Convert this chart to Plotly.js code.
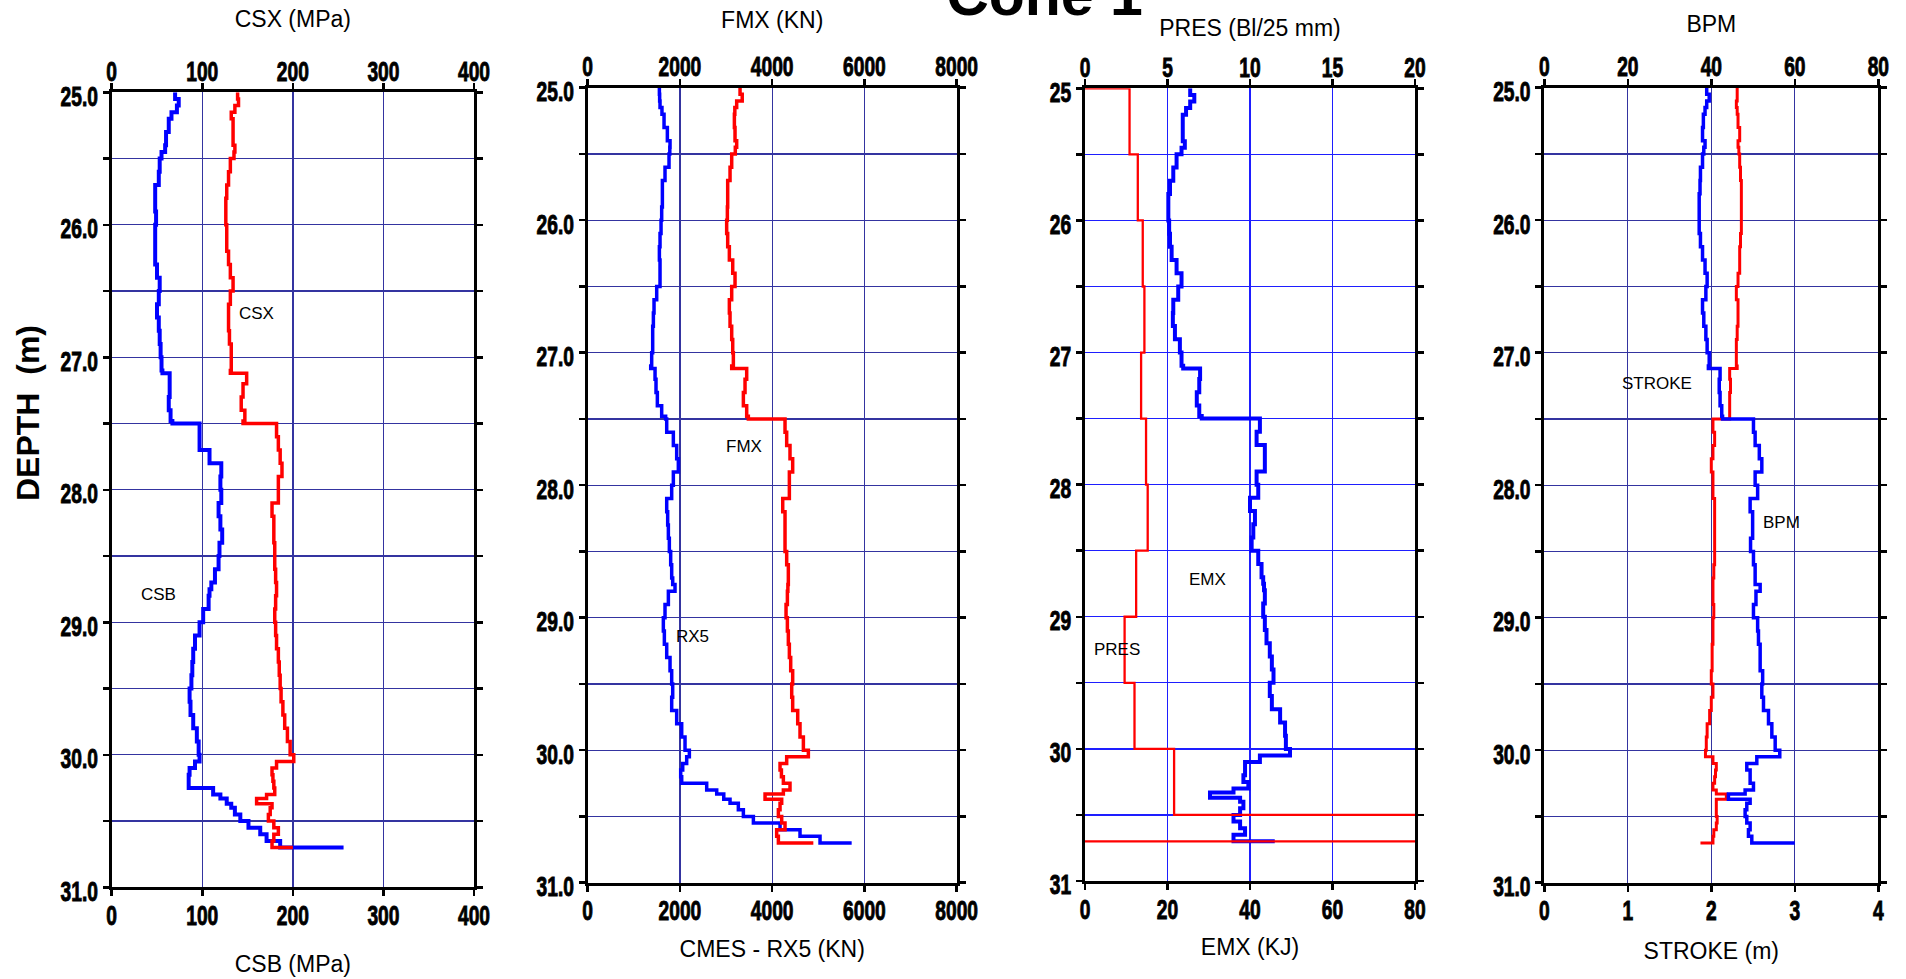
<!DOCTYPE html>
<html><head><meta charset="utf-8">
<script src="https://cdn.plot.ly/plotly-3.0.1.min.js"></script>
<style>html,body{margin:0;padding:0;background:#fff}#chart{width:1906px;height:979px}</style>
</head><body><div id="chart"></div>
<script>
// ---------- DATA ----------
const depth = [25.0,25.05,25.1,25.15,25.2,25.3,25.4,25.45,25.5,25.6,25.7,25.8,25.9,26.0,26.1,26.2,26.3,26.4,26.5,26.6,26.7,26.8,26.9,27.0,27.1,27.12,27.2,27.3,27.4,27.48,27.5,27.6,27.7,27.8,27.9,28.0,28.1,28.2,28.3,28.4,28.5,28.6,28.7,28.75,28.8,28.9,29.0,29.1,29.2,29.3,29.4,29.5,29.6,29.7,29.8,29.9,30.0,30.05,30.1,30.15,30.2,30.25,30.3,30.33,30.37,30.4,30.45,30.5,30.55,30.6,30.65,30.7];

// Panel 1 (MPa)
const csb = [70,74,72,66,63,60,59,55,53,52,48,48,49,48,48,48,50,53,52,50,52,53,54,55,56,64,64,63,65,67,97,97,108,121,120,121,118,120,122,119,118,114,110,108,107,101,97,92,90,89,88,86,87,90,94,96,97,92,86,85,85,112,120,127,132,136,142,151,164,171,186,256];
const csx = [139,140,136,132,134,134,136,135,131,129,127,126,126,127,127,129,131,134,131,129,129,130,132,132,131,149,145,143,147,145,182,184,186,188,184,184,177,179,179,180,180,181,182,182,181,180,181,182,184,185,186,187,189,191,194,197,201,182,177,178,179,180,171,160,177,175,173,179,184,179,177,200];

// Panel 2 (KN)
const rx5 = [1554,1560,1568,1610,1655,1727,1785,1780,1763,1676,1619,1619,1604,1590,1568,1554,1568,1568,1496,1438,1424,1409,1409,1387,1366,1460,1481,1510,1604,1690,1713,1857,1929,1965,1857,1821,1713,1734,1749,1770,1799,1821,1843,1893,1749,1676,1640,1662,1713,1785,1821,1843,1821,1929,2038,2110,2204,2146,2060,2016,2038,2580,2797,2950,3086,3266,3375,3592,4170,4603,5037,5723];
const fmx = [3303,3350,3230,3190,3180,3194,3230,3200,3122,3086,3035,3035,3028,3013,3035,3071,3144,3194,3122,3071,3086,3122,3144,3158,3122,3447,3411,3375,3447,3483,4278,4314,4386,4444,4372,4372,4228,4278,4278,4278,4314,4350,4350,4340,4329,4300,4329,4350,4372,4401,4444,4423,4444,4553,4603,4676,4784,4314,4170,4200,4242,4386,4242,3845,4206,4170,4134,4206,4278,4097,4134,4892];

// Panel 3
const emx = [25.5,26.5,25.5,24.5,23.7,23.7,24.2,23.4,22.2,21.4,20.6,20.2,20.2,20.4,20.6,21.0,22.2,23.4,22.6,21.4,21.3,21.8,23.0,23.4,23.8,27.9,27.7,27.1,27.7,28.3,42.4,41.6,43.6,43.6,41.6,42.0,40.0,41.2,40.8,40.4,42.0,42.8,43.2,43.4,43.6,43.2,43.6,44.0,44.8,45.3,45.7,44.8,45.3,47.3,48.5,48.7,49.7,42.4,38.8,38.8,38.4,39.6,36.0,30.3,37.6,38.4,37.6,36.0,37.6,38.8,36.0,46.0];
const presDepth = [25.0,25.0,25.5,26.0,26.5,27.0,27.5,28.0,28.5,29.0,29.5,30.0,30.5,30.7];
const pres = [0,2.7,3.2,3.5,3.6,3.4,3.7,3.8,3.1,2.4,3.0,5.4,40,0];

// Panel 4
const bpm = [38.9,39.5,38.9,38.5,38.1,37.9,38.5,38.2,37.9,37.4,37.3,37.1,37.1,37.1,37.4,37.9,38.5,39.0,38.7,37.9,38.2,38.7,39.0,39.5,39.3,42.1,41.9,42.1,42.5,42.7,50.1,50.5,51.5,52.1,50.5,51.1,49.3,49.9,49.9,49.4,50.1,50.5,50.5,51.7,50.7,50.1,51.1,51.3,51.7,51.7,52.3,52.1,52.5,53.7,54.5,55.3,56.4,50.9,48.5,49.3,49.3,50.1,48.1,44.1,49.3,48.5,48.1,48.5,49.3,48.9,49.7,60.0];
const stroke = [2.31,2.31,2.30,2.31,2.32,2.34,2.32,2.33,2.34,2.35,2.36,2.36,2.36,2.36,2.35,2.34,2.34,2.32,2.30,2.32,2.32,2.31,2.30,2.30,2.31,2.22,2.23,2.22,2.22,2.22,2.02,2.04,2.02,2.00,2.02,2.02,2.04,2.04,2.04,2.04,2.04,2.03,2.02,2.02,2.02,2.03,2.02,2.02,2.01,2.01,2.00,2.02,2.00,1.98,1.95,1.94,1.93,2.02,2.06,2.05,2.04,2.02,2.06,2.18,2.06,2.06,2.06,2.07,2.06,2.03,2.02,1.87];

// Tick labels
const depthTicks = [25,25.5,26,26.5,27,27.5,28,28.5,29,29.5,30,30.5,31];
const depthLabelsDec = ['25.0','','26.0','','27.0','','28.0','','29.0','','30.0','','31.0'];
const depthLabelsInt = ['25','','26','','27','','28','','29','','30','','31'];

// Axis titles and series labels
const titlesTop = ['CSX (MPa)','FMX (KN)','PRES (Bl/25 mm)','BPM'];
const titlesBottom = ['CSB (MPa)','CMES - RX5 (KN)','EMX (KJ)','STROKE (m)'];
const seriesLabels = ['CSX','CSB','FMX','RX5','EMX','PRES','STROKE','BPM'];

// ---------- STYLE / LAYOUT ----------
const BLUE = 'rgb(0,0,255)', RED = 'rgb(255,0,0)';
const NAVY = 'rgb(52,52,160)', BRIGHT = 'rgb(30,30,255)';
const tickFont = {family:'Liberation Sans, Arial, sans-serif', size:24, weight:'bold', color:'#000'};
const titleFont = {family:'Liberation Sans, Arial, sans-serif', size:23, color:'#000'};
const labFont = {family:'Liberation Sans, Arial, sans-serif', size:17, color:'#000'};

const panels = [
  {x:[111.7,474.0], y:[92.3,887.3], top:[0,400,100], bot:[0,400,100], grid:NAVY, ylab:depthLabelsDec, stTop:18, stBot:27},
  {x:[587.7,956.7], y:[87.7,882.7], top:[0,8000,2000], bot:[0,8000,2000], grid:NAVY, ylab:depthLabelsDec, stTop:13, stBot:17},
  {x:[1085,1415], y:[88.3,881.0], top:[0,20,5], bot:[0,80,20], grid:BRIGHT, ylab:depthLabelsInt, stTop:5, stBot:17},
  {x:[1544.3,1878.3], y:[87.7,882.7], top:[0,80,20], bot:[0,4,1], grid:NAVY, ylab:depthLabelsDec, stTop:9, stBot:19}
];
const W = 1906, H = 979;
const layout = {
  width:W, height:H, margin:{l:0,r:0,t:0,b:0}, paper_bgcolor:'#fff', plot_bgcolor:'#fff',
  showlegend:false, hovermode:false,
  title:{text:'Cone 1', font:{family:'Liberation Sans, Arial, sans-serif', size:59, weight:'bold', color:'#000'},
         x:0.548, xref:'container', xanchor:'center', y:1-15/H, yref:'container', yanchor:'bottom'},
  annotations:[]
};
const axisIds = [];
panels.forEach((p,i)=>{
  const bx = 2*i+1, tx = 2*i+2, yi = i+1;
  const bName = bx===1?'xaxis':'xaxis'+bx, tName = 'xaxis'+tx, yName = yi===1?'yaxis':'yaxis'+yi;
  const yRef = yi===1?'y':'y'+yi, bRef = bx===1?'x':'x'+bx;
  axisIds.push([bRef,'bottom'],['x'+tx,'top'],[yRef,'left']);
  const dom = [p.x[0]/W, p.x[1]/W];
  const common = {showline:true, linecolor:'#000', linewidth:3, ticks:'outside', ticklen:6, tickwidth:2.5, tickcolor:'#000',
                  tickfont:tickFont, zeroline:false, automargin:false, fixedrange:true};
  layout[bName] = Object.assign({}, common, {domain:dom, anchor:yRef, side:'bottom', range:[p.bot[0],p.bot[1]], dtick:p.bot[2], tick0:0,
                  showgrid:true, gridcolor:p.grid, gridwidth:1.3,
                  title:{text:titlesBottom[i], font:titleFont, standoff:p.stBot}});
  layout[tName] = Object.assign({}, common, {overlaying:bRef, anchor:yRef, side:'top', range:[p.top[0],p.top[1]], dtick:p.top[2], tick0:0,
                  showgrid:false,
                  title:{text:titlesTop[i], font:titleFont, standoff:p.stTop}});
  layout[yName] = Object.assign({}, common, {domain:[1-p.y[1]/H, 1-p.y[0]/H], anchor:bRef, range:[31,25], mirror:'ticks',
                  tickmode:'array', tickvals:depthTicks, ticktext:p.ylab, showgrid:true, gridcolor:p.grid, gridwidth:1.3});
});
layout.annotations.push({text:'DEPTH  (m)', textangle:-90, xref:'paper', yref:'paper', x:28/W, y:1-413/H,
  xanchor:'center', yanchor:'middle', showarrow:false, font:{family:'Liberation Sans, Arial, sans-serif', size:32, weight:'bold', color:'#000'}});

// in-plot series labels (data coordinates)
const labPos = [['x','y',160,26.67],['x','y',52,28.79],['x3','y2',3390,27.71],['x3','y2',2280,29.14],
                ['x5','y3',29.8,28.72],['x5','y3',7.7,29.25],['x8','y4',26.9,27.23],['x8','y4',56.9,28.28]];
seriesLabels.forEach((t,k)=>{
  const q = labPos[k];
  layout.annotations.push({text:t, xref:q[0], yref:q[1], x:q[2], y:q[3], showarrow:false, font:labFont, xanchor:'center', yanchor:'middle'});
});

const tr = (x, y, xa, ya, color, w) => ({x:x, y:y, xaxis:xa, yaxis:ya, type:'scatter', mode:'lines',
  line:{color:color, width:w, shape:'vh'}, hoverinfo:'skip'});
const data = [
  tr(csb, depth, 'x', 'y', BLUE, 4),
  tr(csx, depth, 'x2', 'y', RED, 3.5),
  tr(rx5, depth, 'x3', 'y2', BLUE, 3.5),
  tr(fmx, depth, 'x4', 'y2', RED, 3.5),
  tr(emx, depth, 'x5', 'y3', BLUE, 4),
  tr(pres, presDepth, 'x6', 'y3', RED, 2.3),
  tr(stroke, depth, 'x7', 'y4', RED, 3),
  tr(bpm, depth, 'x8', 'y4', BLUE, 3.5)
];
Plotly.newPlot('chart', data, layout, {staticPlot:true, displayModeBar:false}).then(gd => {
  // narrow heavy tick numerals like the original (condensed bold face)
  const SX = 0.8, SY = 1.12;
  axisIds.forEach(([id, side]) => {
    gd.querySelectorAll('g.' + id + 'tick text').forEach(t => {
      const x = parseFloat(t.getAttribute('x') || 0), y = parseFloat(t.getAttribute('y') || 0);
      const shift = side === 'top' ? 7 : (side === 'left' ? 5 : 0);
      t.setAttribute('x', x / SX);
      t.setAttribute('y', (y + shift) / SY);
      t.setAttribute('transform', (t.getAttribute('transform') || '') + ' scale(' + SX + ',' + SY + ')');
      t.style.stroke = '#000';
      t.style.strokeWidth = '0.8px';
    });
  });
});
</script></body></html>
